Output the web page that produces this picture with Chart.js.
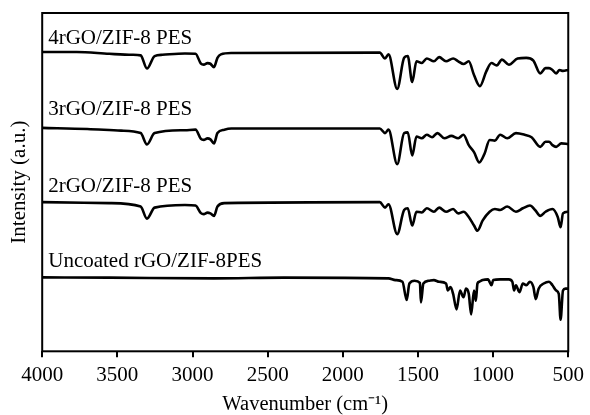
<!DOCTYPE html>
<html>
<head>
<meta charset="utf-8">
<script src="https://cdn.jsdelivr.net/npm/chart.js@4.4.1/dist/chart.umd.min.js"></script>
<style>
  html, body { margin: 0; padding: 0; background: #fff; }
  #wrap { width: 590px; height: 415px; }
</style>
</head>
<body>
<div id="wrap"><canvas id="ftirChart"></canvas></div>
<script>
// sample names, top to bottom
var sampleNames = ["4rGO/ZIF-8 PES", "3rGO/ZIF-8 PES", "2rGO/ZIF-8 PES", "Uncoated rGO/ZIF-8PES"];
var xTicks = [4000, 3500, 3000, 2500, 2000, 1500, 1000, 500];

// wavenumbers (cm-1) and stacked intensities (a.u.)
var wn4 = [4000, 3770, 3554, 3400, 3345, 3303, 3252, 3200, 3050, 2980, 2944, 2925, 2900, 2881, 2857, 2834, 2811, 2741, 1754, 1719, 1696, 1638, 1592, 1568, 1538, 1510, 1475, 1441, 1394, 1359, 1313, 1266, 1232, 1197, 1162, 1127, 1088, 1046, 1011, 976, 941, 895, 837, 779, 732, 686, 651, 628, 605, 581, 558, 535, 500];
var int4 = [304.4, 304.4, 302.5, 301.5, 300.9, 287.5, 300.2, 301.5, 302.8, 302.6, 292.5, 291.5, 293.0, 292.4, 289.0, 298.4, 301.9, 303.3, 303.7, 297.7, 301.9, 266.8, 298.4, 300.2, 273.8, 294.9, 293.1, 297.7, 294.9, 299.1, 294.9, 297.7, 294.9, 292.1, 294.9, 280.9, 269.6, 284.4, 293.1, 290.7, 296.6, 291.4, 297.7, 298.4, 295.6, 282.6, 287.9, 287.9, 286.1, 282.6, 286.1, 285.1, 286.1];

var wn3 = [4000, 3700, 3475, 3345, 3303, 3252, 3050, 2980, 2944, 2925, 2900, 2881, 2857, 2834, 2788, 2741, 1754, 1719, 1696, 1638, 1592, 1568, 1538, 1510, 1475, 1441, 1406, 1371, 1324, 1278, 1232, 1197, 1162, 1127, 1092, 1057, 1023, 988, 953, 906, 848, 790, 744, 686, 651, 628, 605, 581, 546, 500];
var int3 = [227.2, 226.1, 224.4, 221.9, 210.3, 221.9, 224.8, 225.4, 216.0, 215.0, 216.5, 215.5, 211.4, 221.9, 225.4, 226.5, 226.5, 221.9, 225.4, 190.3, 221.9, 222.6, 199.1, 218.4, 216.6, 220.2, 217.7, 221.9, 216.6, 219.1, 216.6, 220.2, 209.6, 202.6, 192.1, 200.9, 214.9, 214.2, 220.2, 216.6, 221.9, 220.2, 217.7, 207.9, 213.1, 213.1, 209.6, 207.9, 211.4, 210.7];

var wn2 = [4000, 3554, 3345, 3303, 3252, 3050, 2980, 2944, 2925, 2900, 2881, 2857, 2834, 2788, 1754, 1719, 1696, 1638, 1592, 1568, 1538, 1510, 1475, 1441, 1394, 1359, 1313, 1266, 1232, 1197, 1162, 1127, 1104, 1069, 1023, 988, 953, 906, 848, 802, 755, 721, 686, 651, 605, 570, 551, 535, 500];
var int2 = [151.7, 150.7, 147.2, 134.9, 146.1, 148.8, 148.2, 140.5, 139.5, 141.0, 140.2, 137.7, 147.2, 150.7, 151.7, 146.1, 149.6, 119.1, 143.7, 145.4, 127.9, 141.9, 141.2, 145.4, 141.9, 146.1, 141.9, 144.7, 140.2, 141.9, 136.6, 127.9, 122.6, 133.1, 141.9, 144.7, 143.7, 147.2, 141.9, 145.4, 148.2, 143.7, 137.7, 141.9, 144.7, 136.6, 126.1, 140.2, 141.9];

var wn0 = [4000, 3554, 2857, 2393, 1696, 1650, 1603, 1575, 1557, 1522, 1487, 1480, 1464, 1429, 1394, 1359, 1313, 1301, 1283, 1266, 1243, 1220, 1197, 1180, 1162, 1146, 1127, 1115, 1104, 1092, 1069, 1034, 1011, 999, 953, 895, 872, 860, 848, 825, 802, 779, 755, 732, 716, 697, 663, 628, 605, 581, 563, 551, 535, 519, 500];
var int0 = [75.2, 74.9, 74.2, 74.9, 74.2, 72.4, 70.7, 52.1, 68.9, 71.7, 69.6, 49.6, 68.9, 71.7, 72.4, 70.7, 68.9, 61.9, 65.4, 58.4, 42.6, 61.9, 54.9, 63.7, 58.4, 37.4, 61.9, 51.4, 68.9, 70.7, 72.4, 73.1, 67.2, 72.4, 73.1, 73.1, 70.7, 61.9, 67.2, 60.2, 68.9, 67.2, 70.7, 65.4, 53.1, 63.7, 68.9, 70.7, 67.2, 61.9, 58.4, 32.1, 61.9, 63.7, 63.7];

// where each sample name sits (data coordinates)
var labelX = [3960, 3960, 3960, 3960];
var labelY = [318, 246, 168, 91];

var serif = '"Liberation Serif", "Times New Roman", serif';

function toPoints(xs, ys) {
    var pts = [];
    for (var i = 0; i < xs.length; i++) pts.push({ x: xs[i], y: ys[i] });
    return pts;
}

var seriesWn = [wn4, wn3, wn2, wn0];
var seriesInt = [int4, int3, int2, int0];
var datasets = [];
for (var s = 0; s < sampleNames.length; s++) {
    datasets.push({
        label: sampleNames[s],
        data: toPoints(seriesWn[s], seriesInt[s]),
        borderColor: '#000',
        borderWidth: 2.6,
        pointRadius: 0,
        cubicInterpolationMode: 'monotone',
        fill: false
    });
}

var framePlugin = {
    id: 'frameAndNames',
    afterDraw: function (chart) {
        var ctx = chart.ctx, a = chart.chartArea;
        var xs = chart.scales.x, ys = chart.scales.y;
        ctx.save();
        ctx.strokeStyle = '#000';
        ctx.lineWidth = 2;
        ctx.strokeRect(a.left, a.top, a.right - a.left, a.bottom - a.top);
        ctx.fillStyle = '#000';
        ctx.font = '21px ' + serif;
        ctx.textAlign = 'left';
        ctx.textBaseline = 'middle';
        for (var i = 0; i < sampleNames.length; i++) {
            ctx.fillText(sampleNames[i], xs.getPixelForValue(labelX[i]), ys.getPixelForValue(labelY[i]));
        }
        ctx.restore();
    }
};

var ctxF = document.getElementById('ftirChart').getContext('2d');
var ftirChart = new Chart(ctxF, {
    type: 'line',
    data: { datasets: datasets },
    options: {
        responsive: true,
        maintainAspectRatio: false,
        animation: false,
        events: [],
        layout: { padding: { top: 13, right: 18, bottom: 0, left: 0 } },
        plugins: {
            legend: { display: false },
            tooltip: { enabled: false }
        },
        scales: {
            x: {
                type: 'linear',
                reverse: true,
                min: 500,
                max: 4000,
                afterBuildTicks: function (scale) {
                    scale.ticks = xTicks.map(function (v) { return { value: v }; });
                },
                ticks: {
                    color: '#000',
                    padding: 6,
                    maxRotation: 0,
                    autoSkip: false,
                    font: { family: serif, size: 21 },
                    callback: function (v) { return String(v); }
                },
                grid: { drawOnChartArea: false, drawTicks: true, tickLength: 6, color: '#000', lineWidth: 2 },
                border: { display: false },
                title: {
                    display: true,
                    text: 'Wavenumber (cm\u207B\u00B9)',
                    color: '#000',
                    padding: { top: 0, bottom: 0 },
                    font: { family: serif, size: 20.5, lineHeight: 1 }
                }
            },
            y: {
                min: 0,
                max: 344,
                ticks: { display: false },
                grid: { display: false, drawTicks: false },
                border: { display: false },
                title: {
                    display: true,
                    text: 'Intensity (a.u.)',
                    color: '#000',
                    padding: { top: 7, bottom: 10 },
                    font: { family: serif, size: 21, lineHeight: 1.2 }
                }
            }
        }
    },
    plugins: [framePlugin]
});
</script>
</body>
</html>
